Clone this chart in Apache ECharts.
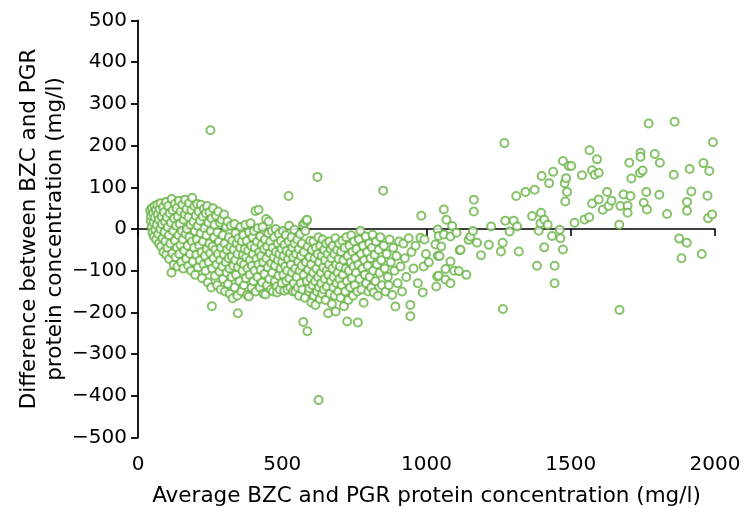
<!DOCTYPE html>
<html>
<head>
<meta charset="utf-8">
<script src="https://cdn.jsdelivr.net/npm/echarts@6/dist/echarts.min.js"></script>
<style>html,body{margin:0;padding:0;background:#fff}#c{width:744px;height:508px}</style>
</head>
<body>
<div id="c"></div>
<script>
// Axis ticks
const xTicks = [0, 500, 1000, 1500, 2000];
const yTicks = [-500, -400, -300, -200, -100, 0, 100, 200, 300, 400, 500];
const xTitle = 'Average BZC and PGR protein concentration (mg/l)';
const yTitle = 'Difference between BZC and PGR\nprotein concentration (mg/l)';

// Points: [average, difference]
const groupLow = [
[42,45],[44,20],[45,32],[47,5],[48,50],[50,-8],[52,38],[54,15],[55,-18],[57,55],[58,28],[60,-2],[62,45],[63,-25],[65,10],[67,58],[68,35],[70,-12],[72,22],[73,-35],[75,48],[77,0],[78,62],[80,-42],[82,30],[83,12],[85,-22],[87,52],[88,-55],[90,40],[92,-8],[94,18],[95,-30],[97,65],[98,-62],[100,28],[102,-45],[103,5],[105,55],[107,-15],[108,-72],[110,38],[112,-35],[114,15],[116,-105],[117,72],[119,-58],[120,45],[122,-5],[124,-85],[125,25],[127,60],[128,-28],[130,-68],[132,8],[134,50],[135,-45],[137,-90],[138,30],[140,-15],[142,68],[143,-60],[145,12],[147,-38],[148,42],[150,-80],[152,-5],[154,58],[155,-25],[157,-95],[158,22],[160,-52],[162,35],[163,70],[165,-12],[167,-72],[168,48],[170,0],[172,-40],[174,-88],[175,28],[177,62],[178,-20],[180,-60],[182,10],[184,-100],[185,45],[187,-30],[188,75],[190,-78],[192,18],[194,-45],[195,55],[197,-5],[198,-110],[200,32],[202,-62],[204,-25],[205,60],[207,8],[208,-92],[210,42],[212,-40],[214,-75],[215,20],[217,-10],[218,58],[220,-55],[222,-118],[224,30],[225,-30],[227,-85],[228,48],[230,2],[232,-65],[234,-100],[235,38],[237,-15],[238,-48],[240,55],[242,-128],[244,15],[245,-80],[247,-35],[248,40],[250,-58],[252,-5],[254,-140],[255,25],[257,-95],[258,-42],[260,50],[262,-70],[264,-20],[265,10],[267,-112],[268,-50],[270,32],[272,-85],[274,-135],[275,-8],[277,-60],[278,42],[280,-30],[282,-102],[284,15],[285,-75],[287,-145],[288,-45],[290,22],[292,-90],[294,-15],[295,-120],[297,-62],[298,35],[300,-35],[302,-150],[304,-80],[305,5],[307,-105],[308,-50],[310,18],[312,-132],[314,-70],[315,-20],[317,-95],[318,-155],[320,-42],[322,8],[324,-115],[325,-65],[327,-28],[328,-166],[330,-88],[332,-50],[334,12],[335,-140],[337,-75],[338,-10],[340,-110],[342,-35],[344,-160],[345,-60],[347,-92],[348,-22]
];
const groupMid = [
[352,-125],[354,-45],[355,5],[357,-80],[358,-150],[360,-30],[362,-100],[364,-62],[365,-15],[367,-135],[368,-85],[370,-48],[372,10],[374,-118],[375,-68],[377,-28],[378,-158],[380,-95],[382,-52],[384,-162],[385,-8],[387,-110],[388,-75],[390,14],[392,-40],[394,-140],[395,-88],[397,-20],[398,-60],[400,-125],[402,-5],[404,-100],[405,-45],[407,43],[408,-150],[410,-72],[412,-30],[414,-115],[415,2],[417,-85],[418,46],[420,-55],[422,-140],[424,-18],[425,-98],[427,-65],[428,-38],[430,-128],[432,5],[434,-80],[435,-155],[437,-48],[438,-108],[440,-25],[442,-157],[444,24],[445,-70],[447,-135],[448,-42],[450,-92],[452,-10],[453,18],[455,-120],[457,-58],[458,-30],[460,-145],[462,-82],[464,-5],[465,-105],[467,-45],[468,-150],[470,-68],[472,-20],[474,-125],[475,-88],[477,0],[478,-55],[480,-138],[482,-152],[484,-35],[485,-75],[487,-112],[488,-12],[490,-60],[492,-145],[494,-95],[495,-28],[497,-48],[498,-130],[500,-80],[502,-5],[504,-110],[505,-65],[507,-148],[508,-38],[510,-90],[512,-15],[514,-125],[515,-52],[517,-100],[518,-145],[520,-72],[522,-30],[524,8],[525,-118],[527,-58],[528,-140],[530,-85],[532,-20],[534,-105],[535,-45],[537,-150],[538,-68],[540,-130],[542,-2],[543,-35],[545,-95],[546,-150],[548,-60],[550,-115],[552,-25],[554,-140],[555,-78],[557,-48],[558,-160],[560,-100],[562,-12],[564,-130],[565,-65],[567,-88],[568,-35],[570,-145],[572,10],[574,-110],[575,-55],[577,14],[578,-165],[580,-5],[582,-80],[584,20],[585,-125],[586,22],[588,-42],[590,-98],[592,-150],[594,-142],[595,-68],[597,-28],[598,-118],[600,-85],[601,-176],[603,-50],[605,-135],[607,-105],[608,-30],[610,-160],[612,-70],[614,-125],[615,-182],[617,-45],[618,-95],[620,-150],[622,-60],[624,-115],[625,-20],[627,-140],[628,-80],[630,-168],[632,-40],[634,-105],[635,-130],[637,-65],[638,-155],[640,-25],[642,-92],[644,-145],[645,-50],[647,-120],[648,-75],[650,-170],[652,-35],[654,-100],[655,-138],[657,-60],[659,-202],[660,-110],[662,-85],[663,-30],[665,-155],[667,-48],[668,-125],[670,-70],[672,-180],[674,-95],[675,-40],[677,-140],[678,-115],[680,-60],[682,-160],[684,-22],[685,-198],[687,-85],[688,-130],[690,-50],[692,-105],[694,-150],[695,-72],[697,-35],[698,-120]
];
const groupHigh = [
[700,-90],[702,-165],[704,-55],[706,-135],[708,-28],[710,-110],[712,-75],[714,-185],[716,-45],[718,-150],[720,-95],[722,-20],[724,-125],[725,-222],[727,-65],[729,-170],[731,-100],[733,-40],[735,-140],[737,-80],[739,-15],[741,-118],[743,-55],[745,-160],[747,-90],[749,-30],[751,-135],[753,-70],[755,-105],[757,-48],[760,-150],[762,-224],[764,-85],[766,-25],[768,-120],[771,-4],[773,-60],[775,-145],[778,-95],[780,-40],[782,-177],[784,-75],[786,-110],[789,-18],[791,-130],[794,-55],[796,-88],[798,-150],[801,-35],[803,-115],[806,-70],[808,-140],[811,-45],[813,-14],[815,-100],[817,-152],[820,-62],[823,-125],[825,-30],[828,-85],[831,-160],[834,-50],[837,-105],[840,-20],[843,-75],[846,-135],[850,92],[852,-40],[855,-95],[858,-150],[862,-60],[866,-115],[869,-135],[872,-25],[876,-80],[881,-158],[885,-45],[889,-100],[892,-186],[896,-65],[900,-130],[905,-30],[910,-90],[915,-150],[920,-35],[925,-70],[930,-115],[938,-22],[944,-182],[944,-209],[948,-55],[955,-95],[962,-40],[970,-130],[979,-21],[982,32],[987,-152],[990,-90],[993,-25],[998,-60]
];
const groupUpper = [
[1008,-80],[1031,-37],[1034,-138],[1037,-114],[1039,-64],[1039,-1],[1042,-17],[1042,-112],[1045,-65],[1051,-42],[1060,47],[1060,-13],[1066,-96],[1066,-121],[1069,22],[1083,-18],[1083,-78],[1083,-130],[1089,7],[1096,-100],[1104,-9],[1112,-101],[1115,-51],[1118,-50],[1138,-110],[1146,-26],[1152,-18],[1161,-5],[1164,70],[1164,42],[1175,-33],[1189,-63],[1216,-38],[1224,6],[1258,-54],[1264,-33],[1265,-192],[1270,206],[1273,20],[1288,-6],[1302,20],[1311,79],[1314,6],[1320,-54],[1343,89],[1366,31],[1375,94],[1383,-88],[1389,-4],[1395,14],[1397,39],[1399,127],[1408,22],[1408,-44],[1420,10],[1425,110],[1435,-17],[1439,137],[1444,-88],[1444,-130],[1462,-2],[1464,-22],[1473,163],[1473,-49],[1479,110],[1481,66],[1484,122],[1487,89],[1493,151],
[1502,151],[1513,15],[1539,129],[1548,23],[1564,28],[1565,189],[1574,141],[1574,61],[1583,130],[1591,167],[1597,135],[1597,71],[1611,46],[1626,89],[1631,55],[1641,68],[1668,10],[1669,-194],[1672,55],[1683,83],[1697,56],[1697,39],[1707,79],[1703,159],[1710,121],[1740,134],[1742,183],[1742,173],[1749,140],[1753,63],[1762,89],[1764,47],[1770,253],[1791,180],[1807,82],[1809,159],[1834,36],[1857,130],[1860,257],[1876,-23],[1884,-70],[1902,-33],[1903,65],[1903,44],[1912,144],[1918,90],[1954,-60],[1960,158],[1974,80],[1976,26],[1980,139],[1990,35],[1993,208]
];
const outliers = [
[251,237],[622,125],[522,79],[626,-410],[573,-223],[587,-245],[346,-202],[256,-185]
];

const points = [].concat(groupLow, groupMid, groupHigh, groupUpper, outliers);

const FONT = 'DejaVu Sans';
const FS = 20;
const TFS = 21.5;
const green = '#66b345';
const chart = echarts.init(document.getElementById('c'), null, {renderer: 'canvas'});
chart.setOption({
  animation: false,
  backgroundColor: '#fff',
  grid: {left: 138, right: 29, top: 20.5, bottom: 70.5, containLabel: false, outerBoundsMode: 'none'},
  xAxis: [{
    type: 'value', min: xTicks[0], max: xTicks[xTicks.length - 1], interval: 500,
    position: 'bottom',
    axisLine: {show: false, onZero: false},
    axisTick: {show: false},
    splitLine: {show: false},
    axisLabel: {color: '#000', fontSize: FS, fontFamily: FONT, margin: 17,
      formatter: v => String(v)},
    name: xTitle, nameLocation: 'middle', nameGap: 48, nameMoveOverlap: false,
    nameTextStyle: {color: '#000', fontSize: TFS, fontFamily: FONT}
  }, {
    type: 'value', min: xTicks[0], max: xTicks[xTicks.length - 1], interval: 500,
    position: 'top',
    axisLine: {show: true, onZero: true, lineStyle: {color: '#000', width: 1.6}},
    axisTick: {show: true, inside: true, length: 7, lineStyle: {color: '#000', width: 1.6}},
    axisLabel: {show: false},
    splitLine: {show: false}
  }],
  yAxis: {
    type: 'value', min: yTicks[0], max: yTicks[yTicks.length - 1], interval: 100,
    axisLine: {show: true, onZero: false, lineStyle: {color: '#000', width: 1.8}},
    axisTick: {show: true, length: 7, lineStyle: {color: '#000', width: 1.8}},
    splitLine: {show: false},
    axisLabel: {color: '#000', fontSize: FS, fontFamily: FONT, margin: 11,
      formatter: v => String(v).replace('-', '\u2212')},
    name: yTitle, nameLocation: 'middle', nameGap: 70, nameRotate: 90, nameMoveOverlap: false,
    nameTextStyle: {color: '#000', fontSize: TFS, fontFamily: FONT, lineHeight: 26, align: 'center'}
  },
  series: [{
    type: 'scatter',
    xAxisIndex: 0,
    data: points,
    symbol: 'emptyCircle',
    symbolSize: 8,
    itemStyle: {color: green, borderColor: green, borderWidth: 1.9},
    emphasis: {disabled: true}
  }]
});
</script>
</body>
</html>
